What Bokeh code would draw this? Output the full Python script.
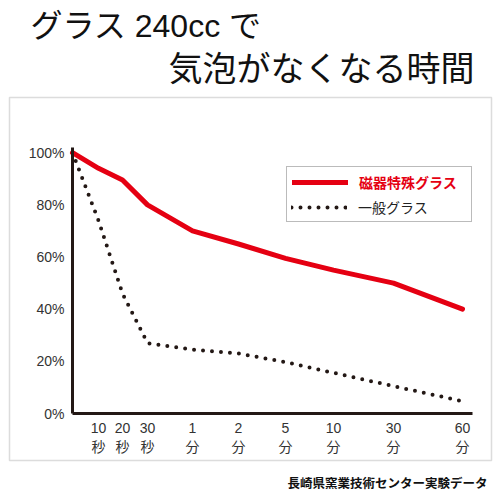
from bokeh.plotting import figure
from bokeh.models import (Range1d, FixedTicker, Legend, LegendItem, Label,
                          BoxAnnotation)
from bokeh.embed import file_html
from bokeh.resources import INLINE

# ---- data ----
title_line1 = "グラス 240cc で"
title_line2 = "気泡がなくなる時間"
source_note = "長崎県窯業技術センター実験データ"

# sampling times and their value on the chart's (hand-spaced) time axis
time_labels = ["0", "10\n秒", "20\n秒", "30\n秒", "1\n分", "2\n分", "5\n分",
               "10\n分", "30\n分", "60\n分"]
time_axis = [0, 1.04, 2.0, 3.0, 4.8, 6.64, 8.52, 10.44, 12.84, 15.6]

porcelain_name = "磁器特殊グラス"
porcelain = [100, 94, 89.5, 80, 70, 65, 59.5, 55, 50, 40]

normal_name = "一般グラス"
normal = [100, 74, 46, 27, 24.5, 23, 19.7, 15.6, 10.5, 4.7]

y_ticks = [0, 20, 40, 60, 80, 100]

FONT = "Noto Sans CJK JP"
MIX = "Liberation Sans, Noto Sans CJK JP"
RED = "#e50012"
INK = "#231815"

W = H = 500
PX_X = 25.0          # pixels per time-axis unit
PX_Y = 266 / 102.0   # pixels per percent
X0, Y0 = 72, 413     # origin of the chart on the canvas

p = figure(width=W, height=H,
           x_range=Range1d(-X0 / PX_X, (W - X0) / PX_X),
           y_range=Range1d(-(H - Y0) / PX_Y, Y0 / PX_Y),
           output_backend="svg", toolbar_location=None,
           min_border=0, background_fill_color="white",
           border_fill_color="white", outline_line_color=None)
p.grid.visible = False

# axes, fixed at the chart origin
for ax in (p.xaxis[0], p.yaxis[0]):
    ax.fixed_location = 0
    ax.axis_line_width = 3
    ax.axis_line_color = INK
    ax.major_tick_line_color = None
    ax.minor_tick_line_color = None
    ax.major_tick_out = 0
    ax.major_tick_in = 0
    ax.major_label_text_font = MIX
    ax.major_label_text_color = "#333333"
    ax.major_label_text_font_size = "14px"

p.yaxis[0].bounds = (0, 102)
p.yaxis[0].ticker = FixedTicker(ticks=y_ticks)
p.yaxis[0].major_label_overrides = {t: f"{t}%" for t in y_ticks}
p.yaxis[0].major_label_standoff = 8

p.xaxis[0].bounds = (0, 16)
p.xaxis[0].ticker = FixedTicker(ticks=time_axis[1:])
p.xaxis[0].major_label_overrides = {t: l for t, l in zip(time_axis[1:], time_labels[1:])}
p.xaxis[0].major_label_standoff = 6

# lines
r_normal = p.line(time_axis, normal, line_color=INK, line_width=4,
                  line_dash="0 9", line_cap="round", line_join="round")
r_porc = p.line(time_axis, porcelain, line_color=RED, line_width=5,
                line_join="round", line_cap="round")
r_dummy = p.line(x=[], y=[], line_alpha=0)

common = dict(location=(286, H - 222), margin=0, padding=5, spacing=4,
              glyph_width=56, glyph_height=20, label_width=107, label_height=20,
              label_standoff=11, label_text_font=FONT, label_text_font_size="14px")

legA = Legend(items=[LegendItem(label=porcelain_name, renderers=[r_porc]),
                     LegendItem(label=" ", renderers=[r_dummy])],
              border_line_color="#777777", border_line_width=1,
              background_fill_color="white", background_fill_alpha=1,
              label_text_color=RED, label_text_font_style="bold", **common)
legB = Legend(items=[LegendItem(label=normal_name, renderers=[r_normal])],
              border_line_alpha=0, background_fill_alpha=0,
              label_text_color="#222222", **common)
p.add_layout(legA)
p.add_layout(legB)

# outer box
p.add_layout(BoxAnnotation(left=9, right=491, top=H - 97, bottom=H - 460,
                           left_units="screen", right_units="screen",
                           top_units="screen", bottom_units="screen",
                           fill_alpha=0, line_color="#8c8c8c", line_width=1.5,
                           level="underlay"))

# titles and source note
p.add_layout(Label(x=30, y=H - 25, x_units="screen", y_units="screen",
                   text=title_line1, text_font=MIX, text_font_size="32px",
                   text_baseline="middle", text_align="left", text_color="#111111"))
p.add_layout(Label(x=168, y=H - 66, x_units="screen", y_units="screen",
                   text=title_line2, text_font=FONT, text_font_size="34px",
                   text_baseline="middle", text_align="left", text_color="#111111"))
p.add_layout(Label(x=487, y=H - 482, x_units="screen", y_units="screen",
                   text=source_note, text_font=FONT, text_font_size="12.5px",
                   text_font_style="bold", text_baseline="middle", text_align="right",
                   text_color="#111111"))

open("out.html", "w").write(file_html(p, INLINE))
